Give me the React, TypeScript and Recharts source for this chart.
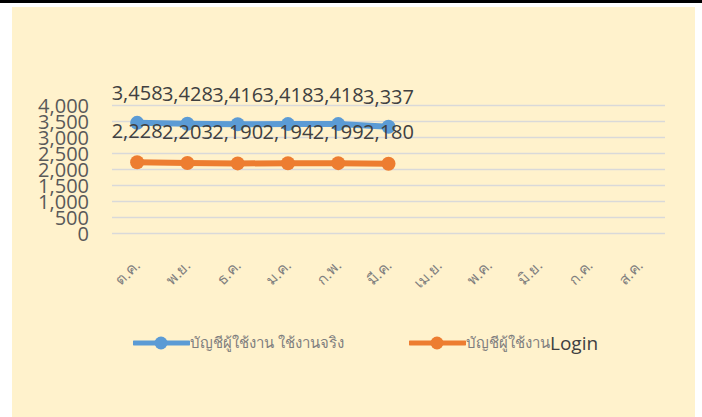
import { LineChart, Line, XAxis, YAxis, CartesianGrid, Legend, LabelList } from 'recharts';

const months = ['ต.ค.', 'พ.ย.', 'ธ.ค.', 'ม.ค.', 'ก.พ.', 'มี.ค.', 'เม.ย.', 'พ.ค.', 'มิ.ย.', 'ก.ค.', 'ส.ค.'];
const activeAccounts = [3458, 3428, 3416, 3418, 3418, 3337];
const loginAccounts = [2228, 2203, 2190, 2194, 2199, 2180];
const yTicks = [0, 500, 1000, 1500, 2000, 2500, 3000, 3500, 4000];
const seriesNames = ['บัญชีผู้ใช้งาน ใช้งานจริง', 'บัญชีผู้ใช้งาน'];

const BLUE = '#5B9BD5';
const ORANGE = '#ED7D31';
const FONT = '"Open Sans", "Noto Sans", sans-serif';

const data = months.map((month, i) => ({
  month,
  active: activeAccounts[i] ?? null,
  login: loginAccounts[i] ?? null,
}));

const fmt = (v: number) => v.toLocaleString('en-US');

function MonthTick({ x, y, payload }: any) {
  const tx = x + 4;
  const ty = y + 33;
  return (
    <text
      x={tx}
      y={ty}
      transform={`rotate(-45, ${tx}, ${ty})`}
      textAnchor="end"
      fontSize={15}
      fill="#7F7F7F"
      fontFamily={FONT}
    >
      {payload.value}
    </text>
  );
}

function makeLabel(offset: number) {
  return (props: any) => {
    const { x, y, value } = props;
    if (value == null) return null;
    return (
      <text
        x={x}
        y={y - offset}
        textAnchor="middle"
        dominantBaseline="central"
        fontSize={20}
        fill="#404040"
        fontFamily={FONT}
      >
        {fmt(value)}
      </text>
    );
  };
}

function LegendIcon({ color }: { color: string }) {
  return (
    <svg width={57} height={16} style={{ display: 'block' }}>
      <line x1={1} y1={8} x2={56} y2={8} stroke={color} strokeWidth={5} strokeLinecap="round" />
      <circle cx={28} cy={8} r={6.5} fill={color} />
    </svg>
  );
}

function ChartLegend() {
  const item: React.CSSProperties = {
    position: 'absolute',
    top: 0,
    display: 'flex',
    alignItems: 'center',
    height: 40,
    whiteSpace: 'nowrap',
  };
  return (
    <div style={{ position: 'relative', height: 40, fontFamily: FONT }}>
      <div style={{ ...item, left: 121 }}>
        <LegendIcon color={BLUE} />
        <span style={{ fontSize: 15, color: '#7F7F7F' }}>{seriesNames[0]}</span>
      </div>
      <div style={{ ...item, left: 397 }}>
        <LegendIcon color={ORANGE} />
        <span style={{ fontSize: 15, color: '#7F7F7F' }}>{seriesNames[1]}</span>
        <span style={{ fontSize: 19, color: '#404040' }}>Login</span>
      </div>
    </div>
  );
}

export default function App() {
  return (
    <div style={{ position: 'absolute', top: 0, left: 0, width: 702, height: 417, background: '#FFFFFF' }}>
      <div style={{ position: 'absolute', top: 0, left: 0, width: 702, height: 3, background: '#000000' }} />
      <div style={{ position: 'absolute', top: 7, left: 12, width: 683, height: 410, background: '#FFF2CC' }}>
        <LineChart
          width={683}
          height={410}
          data={data}
          margin={{ top: 98.5, right: 30, bottom: 143.5, left: 0 }}
        >
          <CartesianGrid vertical={false} stroke="#D9D9D9" strokeWidth={1.5} />
          <XAxis
            dataKey="month"
            scale="band"
            axisLine={false}
            tickLine={false}
            tickSize={0}
            tickMargin={0}
            height={40}
            interval={0}
            tick={<MonthTick />}
          />
          <YAxis
            domain={[0, 4000]}
            ticks={yTicks}
            interval={0}
            axisLine={false}
            tickLine={false}
            tickSize={0}
            tickMargin={23}
            width={100}
            tickFormatter={fmt}
            tick={{ fontSize: 20, fill: '#595959', fontFamily: FONT }}
          />
          <Legend
            layout="horizontal"
            verticalAlign="middle"
            align="center"
            wrapperStyle={{ top: 316, left: 0, width: 683, height: 40 }}
            content={<ChartLegend />}
          />
          <Line
            dataKey="active"
            name={seriesNames[0]}
            stroke={BLUE}
            strokeWidth={6}
            dot={{ r: 7, fill: BLUE, stroke: 'none' }}
            isAnimationActive={false}
          >
            <LabelList dataKey="active" content={makeLabel(30)} />
          </Line>
          <Line
            dataKey="login"
            name={seriesNames[1] + 'Login'}
            stroke={ORANGE}
            strokeWidth={6}
            dot={{ r: 7, fill: ORANGE, stroke: 'none' }}
            isAnimationActive={false}
          >
            <LabelList dataKey="login" content={makeLabel(32)} />
          </Line>
        </LineChart>
      </div>
    </div>
  );
}
